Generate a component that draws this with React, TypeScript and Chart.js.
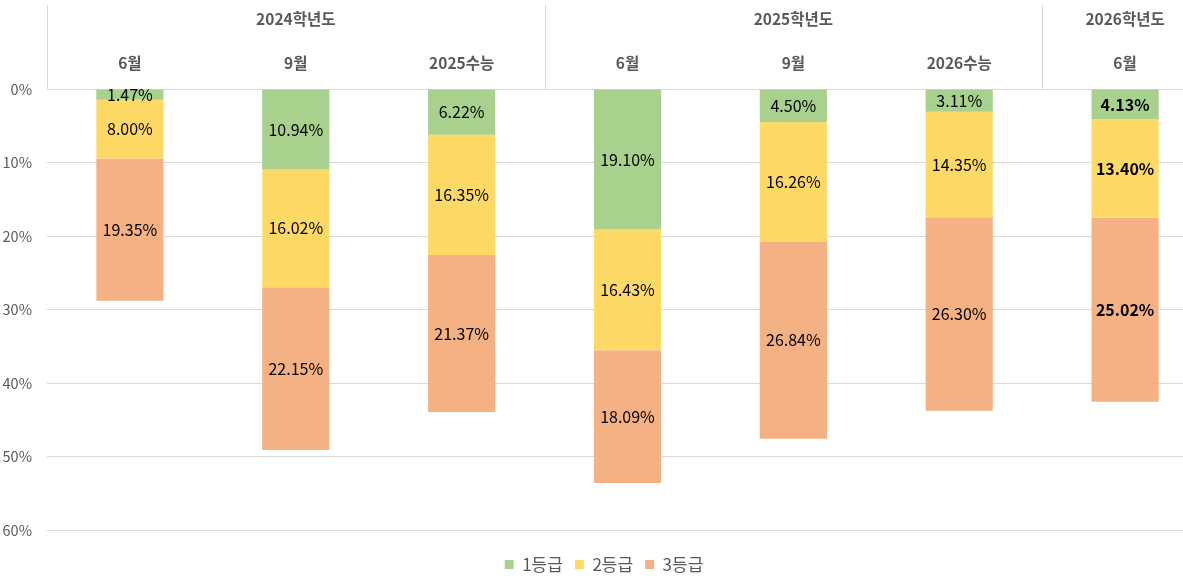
import { useEffect, useRef } from 'react';
import { Chart, registerables } from 'chart.js';

Chart.register(...registerables);

const categories = ['6월', '9월', '2025수능', '6월', '9월', '2026수능', '6월'];
const groups = ['2024학년도', '2025학년도', '2026학년도'];
const groupSpans = [3, 3, 1];

const grade1 = [1.47, 10.94, 6.22, 19.1, 4.5, 3.11, 4.13];
const grade2 = [8.0, 16.02, 16.35, 16.43, 16.26, 14.35, 13.4];
const grade3 = [19.35, 22.15, 21.37, 18.09, 26.84, 26.3, 25.02];
const yTicks = [0, 10, 20, 30, 40, 50, 60];

// latest exam is shown in bold
const boldCategory = 6;

const FONT = '"Noto Sans CJK KR", "Noto Sans", sans-serif';
const GRAY = '#595959';
const LINE = '#d9d9d9';

const headerPlugin = {
  id: 'header',
  afterDraw(chart: any) {
    const { ctx, chartArea } = chart;
    const x = chart.scales.x;
    const step = x.getPixelForValue(1) - x.getPixelForValue(0);
    ctx.save();
    ctx.textAlign = 'center';
    ctx.textBaseline = 'middle';
    ctx.fillStyle = GRAY;
    ctx.font = `bold 15.5px ${FONT}`;
    categories.forEach((c, i) => {
      ctx.fillText(c, x.getPixelForValue(i), 63);
    });
    let start = 0;
    ctx.strokeStyle = LINE;
    ctx.lineWidth = 1;
    groups.forEach((g, gi) => {
      const end = start + groupSpans[gi] - 1;
      const left = x.getPixelForValue(start) - step / 2;
      const right = x.getPixelForValue(end) + step / 2;
      ctx.fillText(g, (left + right) / 2, 19);
      const lx = Math.round(left) + 0.5;
      ctx.beginPath();
      ctx.moveTo(lx, 5);
      ctx.lineTo(lx, chartArea.top);
      ctx.stroke();
      start = end + 1;
    });
    ctx.restore();
  },
};

const valueLabelPlugin = {
  id: 'valueLabels',
  afterDatasetsDraw(chart: any) {
    const { ctx } = chart;
    ctx.save();
    ctx.textAlign = 'center';
    ctx.textBaseline = 'middle';
    ctx.fillStyle = '#000000';
    chart.data.datasets.forEach((ds: any, di: number) => {
      const meta = chart.getDatasetMeta(di);
      meta.data.forEach((bar: any, i: number) => {
        ctx.font = `${i === boldCategory ? 'bold ' : ''}16px ${FONT}`;
        const y = (bar.y + bar.base) / 2;
        ctx.fillText(ds.data[i].toFixed(2) + '%', bar.x, y);
      });
    });
    ctx.restore();
  },
};

export default function App() {
  const canvasRef = useRef<HTMLCanvasElement>(null);

  useEffect(() => {
    if (!canvasRef.current) return;
    const chart = new Chart(canvasRef.current, {
      type: 'bar',
      data: {
        labels: categories,
        datasets: [
          { label: '1등급', data: grade1, backgroundColor: '#a9d18e' },
          { label: '2등급', data: grade2, backgroundColor: '#ffd966' },
          { label: '3등급', data: grade3, backgroundColor: '#f4b183' },
        ],
      },
      options: {
        responsive: false,
        animation: false,
        layout: { padding: { top: 89, right: 7, left: 0, bottom: 0 } },
        datasets: {
          bar: { categoryPercentage: 1, barPercentage: 0.405 },
        },
        scales: {
          x: {
            stacked: true,
            position: 'bottom',
            ticks: { display: false },
            grid: { display: false },
            border: { display: false },
            afterFit: (s: any) => {
              s.height = 14;
            },
          },
          y: {
            stacked: true,
            reverse: true,
            min: 0,
            max: 60,
            afterBuildTicks: (s: any) => {
              s.ticks = yTicks.map((v) => ({ value: v }));
            },
            afterFit: (s: any) => {
              s.width = 47;
            },
            ticks: {
              color: GRAY,
              font: { family: FONT, size: 14.5 },
              padding: 15,
              callback: (v: any) => v + '%',
            },
            grid: { color: LINE, drawTicks: false },
            border: { display: false },
          },
        },
        plugins: {
          legend: {
            position: 'bottom',
            labels: {
              boxWidth: 9,
              boxHeight: 9,
              padding: 12,
              color: GRAY,
              font: { family: FONT, size: 17 },
            },
          },
          tooltip: { enabled: false },
        },
      },
      plugins: [headerPlugin, valueLabelPlugin],
    });
    return () => chart.destroy();
  }, []);

  return (
    <div
      style={{
        position: 'fixed',
        left: 0,
        top: 0,
        width: 1183,
        height: 583,
        overflow: 'hidden',
        background: '#ffffff',
      }}
    >
      <canvas ref={canvasRef} width={1215} height={583} />
    </div>
  );
}
